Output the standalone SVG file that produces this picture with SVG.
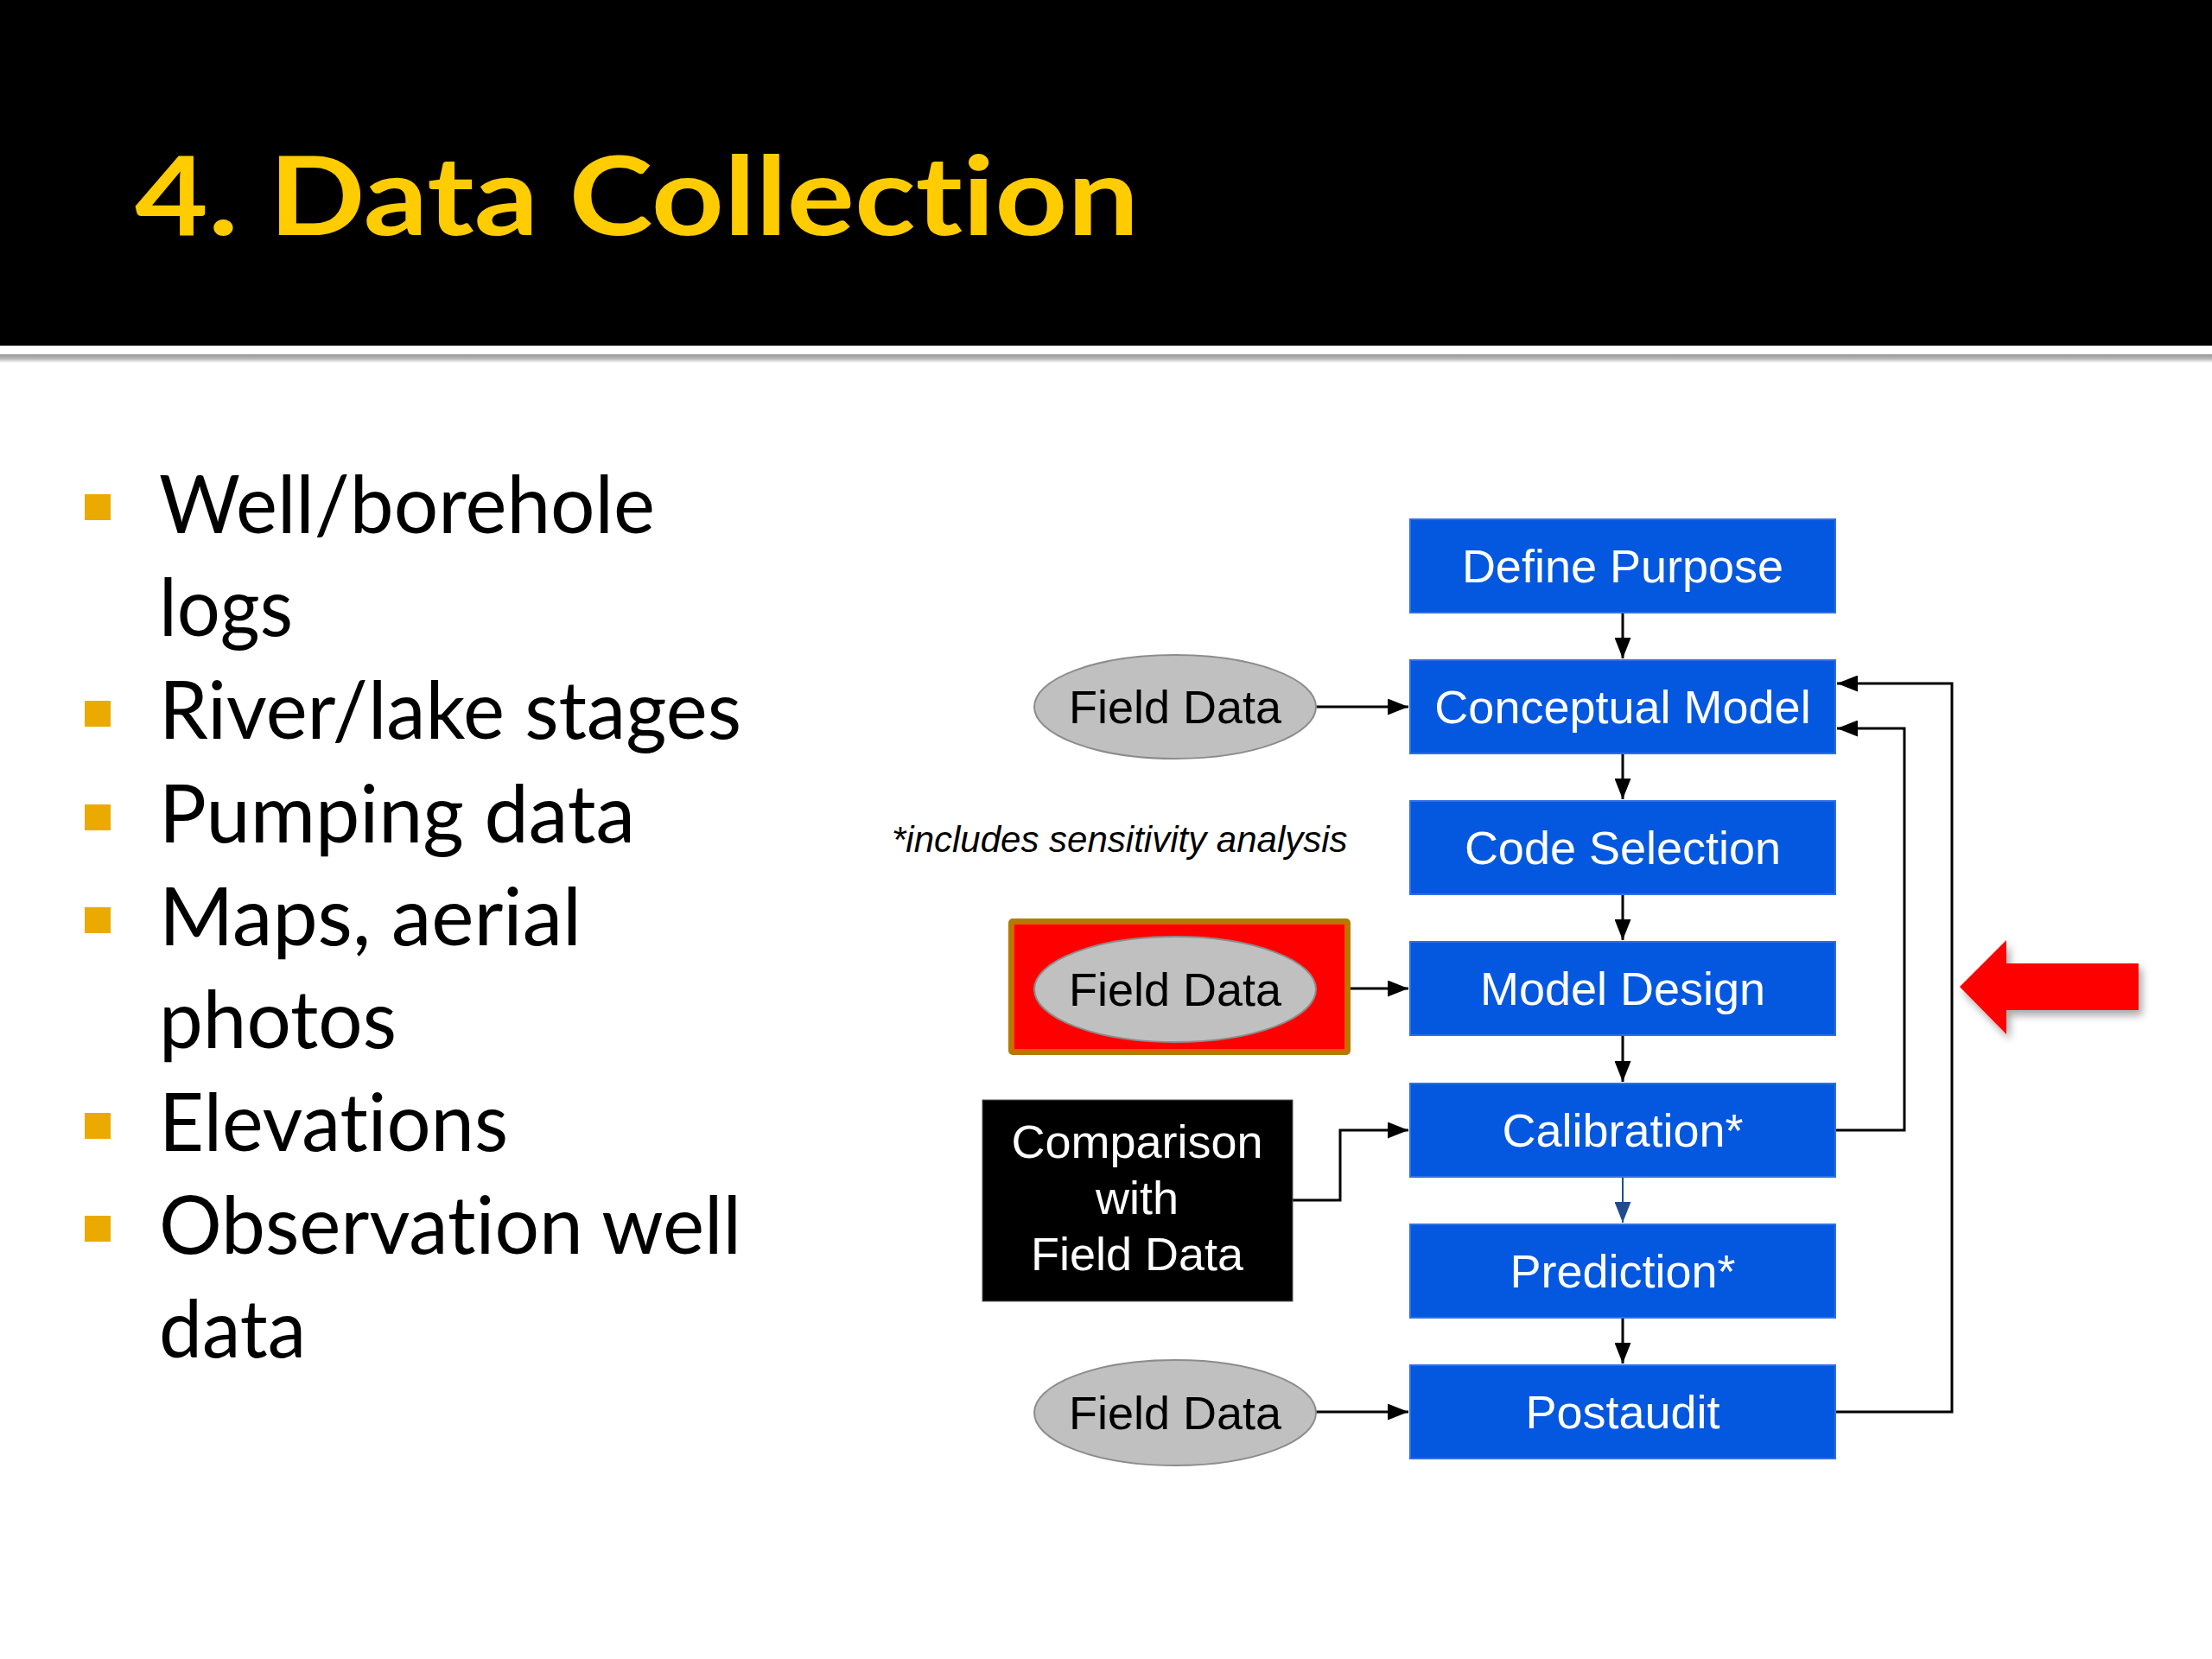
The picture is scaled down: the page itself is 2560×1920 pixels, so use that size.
<svg xmlns="http://www.w3.org/2000/svg" width="2560" height="1920" viewBox="0 0 2560 1920">
<style>
text{font-variant-ligatures:none;font-feature-settings:"liga" 0,"dlig" 0}
.box{fill:#0457DF;stroke:#2F6FE6;stroke-width:2}
.boxt{font-family:"Liberation Sans",Arial,sans-serif;font-size:54px;fill:#ffffff;text-anchor:middle}
.ell{fill:#C0C0C0;stroke:#8C8C8C;stroke-width:2}
.ellt{font-family:"Liberation Sans",Arial,sans-serif;font-size:54px;fill:#000000;text-anchor:middle}
.bul{fill:#EBAA00}
.bt{font-family:Lato,"Open Sans",sans-serif;font-size:93px;fill:#000000}
.con{fill:none;stroke:#000000;stroke-width:3}
</style>
<defs>
<marker id="ah" viewBox="0 0 10 10" refX="10" refY="5" markerUnits="userSpaceOnUse" markerWidth="24" markerHeight="19" orient="auto" preserveAspectRatio="none">
<path d="M0,0 L10,5 L0,10 z" fill="#000000"/>
</marker>
<marker id="ahb" viewBox="0 0 10 10" refX="10" refY="5" markerUnits="userSpaceOnUse" markerWidth="24" markerHeight="19" orient="auto" preserveAspectRatio="none">
<path d="M0,0 L10,5 L0,10 z" fill="#1F4E8C"/>
</marker>
<filter id="sh" x="-20%" y="-30%" width="150%" height="170%">
<feDropShadow dx="4" dy="6" stdDeviation="5" flood-color="#000000" flood-opacity="0.35"/>
</filter>
<linearGradient id="hl" x1="0" y1="0" x2="0" y2="1">
<stop offset="0" stop-color="#9A9A9A"/>
<stop offset="0.5" stop-color="#B5B5B5"/>
<stop offset="1" stop-color="#FFFFFF"/>
</linearGradient>
</defs>
<rect x="0" y="0" width="2560" height="1920" fill="#ffffff"/>
<g id="header">
<rect x="0" y="0" width="2560" height="400" fill="#000000"/>
<rect x="0" y="410" width="2560" height="10" fill="url(#hl)"/>
<text x="156" y="272" font-family="Lato,'Open Sans',sans-serif" font-weight="700" font-size="127" fill="#FFCC00" textLength="1162" lengthAdjust="spacingAndGlyphs">4. Data Collection</text>
</g>
<g id="bullets">
<rect class="bul" x="98" y="572" width="30" height="30"/>
<rect class="bul" x="98" y="811" width="30" height="30"/>
<rect class="bul" x="98" y="931" width="30" height="30"/>
<rect class="bul" x="98" y="1050" width="30" height="30"/>
<rect class="bul" x="98" y="1288" width="30" height="30"/>
<rect class="bul" x="98" y="1407" width="30" height="30"/>
<text class="bt" x="184" y="617" textLength="574" lengthAdjust="spacingAndGlyphs">Well/borehole</text>
<text class="bt" x="184" y="736" textLength="155" lengthAdjust="spacingAndGlyphs">logs</text>
<text class="bt" x="184" y="855" textLength="674" lengthAdjust="spacingAndGlyphs">River/lake stages</text>
<text class="bt" x="184" y="975" textLength="551" lengthAdjust="spacingAndGlyphs">Pumping data</text>
<text class="bt" x="184" y="1094" textLength="489" lengthAdjust="spacingAndGlyphs">Maps, aerial</text>
<text class="bt" x="184" y="1213" textLength="275" lengthAdjust="spacingAndGlyphs">photos</text>
<text class="bt" x="184" y="1332" textLength="404" lengthAdjust="spacingAndGlyphs">Elevations</text>
<text class="bt" x="184" y="1451" textLength="674" lengthAdjust="spacingAndGlyphs">Observation well</text>
<text class="bt" x="184" y="1571" textLength="170" lengthAdjust="spacingAndGlyphs">data</text>
</g>
<g id="connectors">
<path class="con" d="M1878,709 V762" marker-end="url(#ah)"/>
<path class="con" d="M1878,872 V925" marker-end="url(#ah)"/>
<path class="con" d="M1878,1035 V1088" marker-end="url(#ah)"/>
<path class="con" d="M1878,1198 V1252" marker-end="url(#ah)"/>
<path d="M1878,1362 V1415" fill="none" stroke="#1F4E8C" stroke-width="2" marker-end="url(#ahb)"/>
<path class="con" d="M1878,1525 V1578" marker-end="url(#ah)"/>
<path class="con" d="M1523,818 H1630" marker-end="url(#ah)"/>
<path class="con" d="M1523,1144 H1630" marker-end="url(#ah)"/>
<path class="con" d="M1523,1634 H1630" marker-end="url(#ah)"/>
<path class="con" d="M1496,1389 H1551 V1308 H1630" marker-end="url(#ah)"/>
<path class="con" d="M2124,1308 H2204 V843 H2126" marker-end="url(#ah)"/>
<path class="con" d="M2124,1634 H2259 V791 H2126" marker-end="url(#ah)"/>
</g>
<g id="define-purpose">
<rect class="box" x="1632" y="601" width="492" height="108"/>
<text class="boxt" x="1878" y="674">Define Purpose</text>
</g>
<g id="conceptual-model">
<rect class="box" x="1632" y="764" width="492" height="108"/>
<text class="boxt" x="1878" y="837">Conceptual Model</text>
</g>
<g id="code-selection">
<rect class="box" x="1632" y="927" width="492" height="108"/>
<text class="boxt" x="1878" y="1000">Code Selection</text>
</g>
<g id="model-design">
<rect class="box" x="1632" y="1090" width="492" height="108"/>
<text class="boxt" x="1878" y="1163">Model Design</text>
</g>
<g id="calibration">
<rect class="box" x="1632" y="1254" width="492" height="108"/>
<text class="boxt" x="1878" y="1327">Calibration*</text>
</g>
<g id="prediction">
<rect class="box" x="1632" y="1417" width="492" height="108"/>
<text class="boxt" x="1878" y="1490">Prediction*</text>
</g>
<g id="postaudit">
<rect class="box" x="1632" y="1580" width="492" height="108"/>
<text class="boxt" x="1878" y="1653">Postaudit</text>
</g>
<g id="field-data-1">
<ellipse class="ell" cx="1360" cy="818" rx="163" ry="60"/>
<text class="ellt" x="1360" y="837">Field Data</text>
</g>
<g id="field-data-2">
<rect x="1167" y="1063" width="396" height="158" rx="5" fill="#B47A00"/>
<rect x="1173" y="1069" width="384" height="146" fill="#FF0000" stroke="#E85A00" stroke-width="2"/>
<ellipse class="ell" cx="1360" cy="1145" rx="163" ry="61"/>
<text class="ellt" x="1360" y="1164">Field Data</text>
</g>
<g id="field-data-3">
<ellipse class="ell" cx="1360" cy="1635" rx="163" ry="61"/>
<text class="ellt" x="1360" y="1654">Field Data</text>
</g>
<g id="comparison">
<rect x="1137" y="1273" width="359" height="233" fill="#000000" stroke="#555555" stroke-width="1"/>
<text class="boxt" x="1316" y="1340">Comparison</text>
<text class="boxt" x="1316" y="1405">with</text>
<text class="boxt" x="1316" y="1470">Field Data</text>
</g>
<g id="note">
<text x="1032" y="986" font-family="'Liberation Sans',Arial,sans-serif" font-style="italic" font-size="42" fill="#000000">*includes sensitivity analysis</text>
</g>
<g id="red-arrow">
<path d="M2268,1142 L2322,1088 L2322,1115 L2475,1115 L2475,1169 L2322,1169 L2322,1197 Z" fill="#FF0000" filter="url(#sh)"/>
</g>
</svg>
